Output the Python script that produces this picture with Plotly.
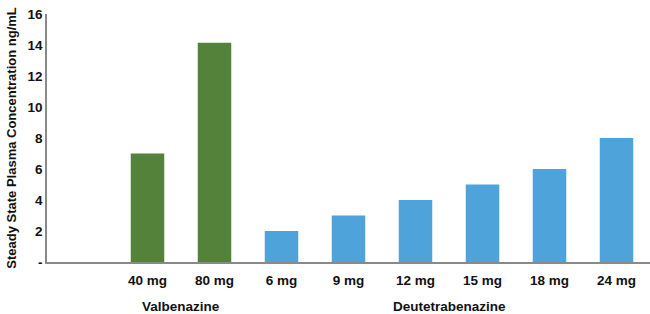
import plotly.graph_objects as go

categories = ["", "40 mg", "80 mg", "6 mg", "9 mg", "12 mg", "15 mg", "18 mg", "24 mg"]
val_doses = ["40 mg", "80 mg"]
val_values = [7.0, 14.15]
deu_doses = ["6 mg", "9 mg", "12 mg", "15 mg", "18 mg", "24 mg"]
deu_values = [2.0, 3.0, 4.0, 5.0, 6.0, 8.0]
y_ticks = [0, 2, 4, 6, 8, 10, 12, 14, 16]
y_ticktext = ["-", "2", "4", "6", "8", "10", "12", "14", "16"]
groups = ["Valbenazine", "Deutetrabenazine"]

pos = {c: i for i, c in enumerate(categories)}
font = "Liberation Sans, Arial, Helvetica, sans-serif"

fig = go.Figure()
fig.add_trace(go.Bar(x=[pos[d] for d in val_doses], y=val_values, width=0.5,
                     marker=dict(color="#55823A", line=dict(width=0)), name=groups[0]))
fig.add_trace(go.Bar(x=[pos[d] for d in deu_doses], y=deu_values, width=0.5,
                     marker=dict(color="#4DA3DA", line=dict(width=0)), name=groups[1]))

val_center = sum(pos[d] for d in val_doses) / len(val_doses)
deu_center = (pos[deu_doses[0]] + pos[deu_doses[-1]]) / 2
for g, cx in zip(groups, [val_center, deu_center]):
    fig.add_annotation(x=cx, y=-0.18, xref="x", yref="paper", text="<b>%s</b>" % g,
                       showarrow=False, yanchor="middle",
                       font=dict(family=font, size=13.5, color="#111"))

fig.update_layout(
    width=650, height=314, barmode="overlay", showlegend=False,
    plot_bgcolor="white", paper_bgcolor="white",
    margin=dict(l=47, r=0, t=14, b=52),
    font=dict(family=font, size=13.5, color="#111"),
    xaxis=dict(range=[-0.5, 8.5], tickmode="array", tickvals=list(range(len(categories))),
               ticktext=["<b>%s</b>" % c for c in categories], showgrid=False,
               showline=True, linecolor="#8a8a8a", linewidth=1.5, ticks="", zeroline=False,
               ticklabelstandoff=5, tickfont=dict(size=13.5, color="#111")),
    yaxis=dict(range=[0, 16], tickmode="array", tickvals=y_ticks,
               ticktext=["<b>%s</b>" % t for t in y_ticktext], showgrid=False,
               showline=True, linecolor="#8a8a8a", linewidth=1.5, ticks="", zeroline=False,
               tickfont=dict(size=13.5, color="#111"), automargin=False,
               title=dict(text="<b>Steady State Plasma Concentration ng/mL</b>",
                          font=dict(size=13, color="#111"), standoff=8)),
)

fig.write_html("out.html", config={"displayModeBar": False},
               post_script="document.body.style.margin='0';")
